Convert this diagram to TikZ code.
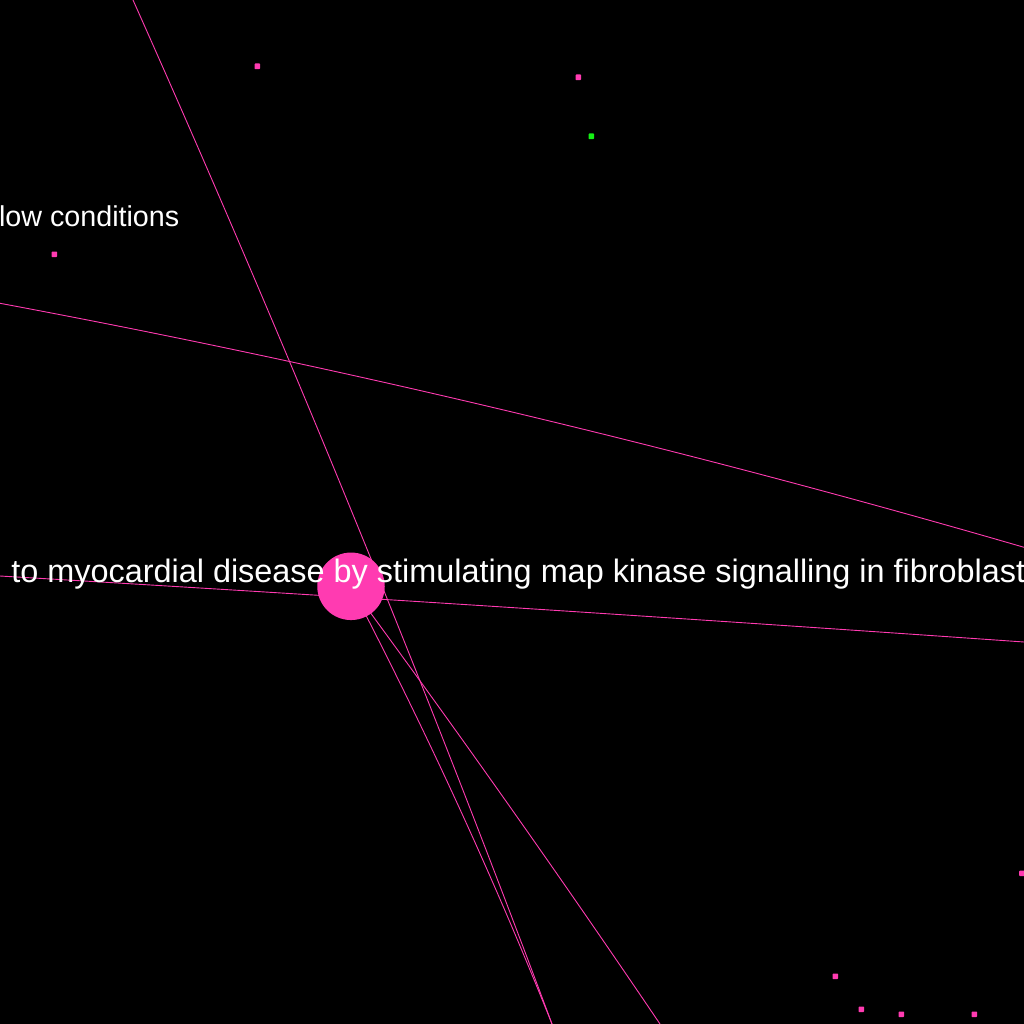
\documentclass[tikz,border=0pt]{standalone}
\usepackage{fontspec}
\setmainfont{Liberation Sans}
\definecolor{hubpink}{RGB}{255,59,177}
\definecolor{dotgreen}{RGB}{20,240,20}
\pgfdeclarelayer{back}
\pgfdeclarelayer{bg}
\pgfsetlayers{back,bg,main}
\begin{document}
\begin{tikzpicture}[x=1pt,y=-1pt,
  edge/.style={draw=hubpink, line width=0.9pt},
  hubnode/.style={circle, fill=hubpink, minimum size=67.5pt, inner sep=0pt},
  dotnode/.style={rectangle, rounded corners=0.8pt, fill=#1, minimum size=5.6pt, inner sep=0pt},
  dotnode/.default=hubpink,
  lab/.style={text=white, inner sep=0pt}]
\useasboundingbox (0,0) rectangle (1024,1024);
\begin{pgfonlayer}{back}
\fill[black] (0,0) rectangle (1024,1024);
\end{pgfonlayer}
% frame-crossing points of edges whose ends lie outside the view
\coordinate (bL) at (0,303.3);
\coordinate (bR) at (1024,547.3);
\coordinate (aT) at (133,0);
\coordinate (aB) at (552,1024);
\coordinate (cL) at (0,576);
\coordinate (cR) at (1024,642);
\coordinate (dB) at (552,1024);
\coordinate (eB) at (660,1024);
% nodes
\node[hubnode] (hub) at (351,586.3) {};
\node[dotnode] (n1) at (257.3,66.3) {};
\node[dotnode] (n2) at (578.3,77.3) {};
\node[dotnode=dotgreen] (n3) at (591.3,136.3) {};
\node[dotnode] (n4) at (54.3,254.3) {};
\node[dotnode] (n5) at (1022,873.3) {};
\node[dotnode] (n6) at (835.3,976.3) {};
\node[dotnode] (n7) at (861.3,1009.3) {};
\node[dotnode] (n8) at (901.3,1014.3) {};
\node[dotnode] (n9) at (974.3,1014.3) {};
% labels
\node[lab, font=\fontsize{32.4}{36}\selectfont, anchor=base west] (mainlab) at (11.2,582.5)
  {to myocardial disease by stimulating map kinase signalling in fibroblast};
\node[lab, font=\fontsize{28.7}{32}\selectfont, anchor=base east] (lowlab) at (179.5,226)
  {low conditions};
% edges
\begin{pgfonlayer}{bg}
\draw[edge] (bL) .. controls (341.3,366.9) and (682.7,448.2) .. (bR);
\draw[edge] (aT) .. controls (285.2,341.3) and (424.9,682.7) .. (aB);
\draw[edge] (cL) .. controls (341.3,596.1) and (682.7,618.1) .. (cR);
\draw[edge] (hub.center) .. controls (426.7,732) and (493.7,878) .. (dB);
\draw[edge] (hub.center) .. controls (458.3,732) and (561.3,878) .. (eB);
\end{pgfonlayer}
\end{tikzpicture}
\end{document}
